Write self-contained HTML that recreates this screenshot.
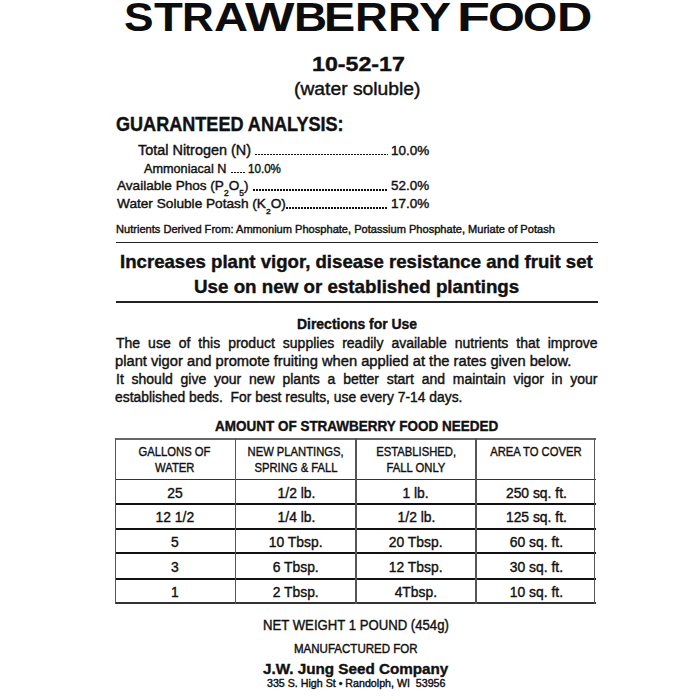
<!DOCTYPE html>
<html><head><meta charset="utf-8"><style>
html,body{margin:0;padding:0;background:#fff;width:700px;height:700px;overflow:hidden}
body{position:relative;font-family:"Liberation Sans", sans-serif;color:#111;-webkit-text-stroke:0.4px #111}
.t{position:absolute;white-space:nowrap;transform-origin:0 0}
sub{font-size:0.62em;vertical-align:-0.7em;line-height:0}
.hr{position:absolute;background:#222}
.pj{white-space:normal;text-align:justify;text-align-last:justify}
.c{position:absolute;width:200px;text-align:center;white-space:nowrap}
.c span{display:inline-block;transform-origin:50% 50%}
.ttl{font-weight:700;-webkit-text-stroke:0;color:#0d0d0d}
.dots{position:absolute;height:1.8px;background:repeating-linear-gradient(90deg,#111 0 1.6px,transparent 1.6px 3px)}
</style></head><body>
<div class="t" style="left:311.57px;top:53.6px;font-size:20.58px;line-height:20.58px;font-weight:700;transform:scaleX(1.1272);">10-52-17</div><div class="t" style="left:294.4px;top:80.8px;font-size:17.5px;line-height:17.5px;font-weight:400;transform:scaleX(1.1018);">(water soluble)</div><div class="t" style="left:116.1px;top:113.8px;font-size:20.0px;line-height:20.0px;font-weight:700;transform:scaleX(0.9036);">GUARANTEED ANALYSIS:</div><div class="t" style="left:138.0px;top:144.1px;font-size:13.91px;line-height:13.91px;font-weight:400;transform:scaleX(1.037);">Total Nitrogen (N)</div><div class="t" style="left:391.11px;top:144.9px;font-size:12.46px;line-height:12.46px;font-weight:400;transform:scaleX(1.0853);">10.0%</div><div class="t" style="left:144.4px;top:162.9px;font-size:12.9px;line-height:12.9px;font-weight:400;transform:scaleX(0.9831);">Ammoniacal N</div><div class="t" style="left:247.67px;top:162.9px;font-size:12.46px;line-height:12.46px;font-weight:400;transform:scaleX(0.9324);">10.0%</div><div class="t" style="left:117.0px;top:179.4px;font-size:13.62px;line-height:13.62px;font-weight:400;transform:scaleX(0.9977);">Available Phos (P<sub>2</sub>O<sub>5</sub>)</div><div class="t" style="left:391.2px;top:179.3px;font-size:13.48px;line-height:13.48px;font-weight:400;transform:scaleX(0.9973);">52.0%</div><div class="t" style="left:117.0px;top:197.0px;font-size:13.04px;line-height:13.04px;font-weight:400;transform:scaleX(1.0475);">Water Soluble Potash (K<sub>2</sub>O)</div><div class="t" style="left:391.11px;top:198.0px;font-size:12.46px;line-height:12.46px;font-weight:400;transform:scaleX(1.0853);">17.0%</div><div class="t" style="left:115.97px;top:224.4px;font-size:10.72px;line-height:10.72px;font-weight:400;transform:scaleX(1.0331);">Nutrients Derived From: Ammonium Phosphate, Potassium Phosphate, Muriate of Potash</div><div class="t" style="left:120.0px;top:253.0px;font-size:18.55px;line-height:18.55px;font-weight:700;transform:scaleX(1.0043);">Increases plant vigor, disease resistance and fruit set</div><div class="t" style="left:194.02px;top:277.0px;font-size:19.13px;line-height:19.13px;font-weight:700;transform:scaleX(0.9818);">Use on new or established plantings</div><div class="t" style="left:296.64px;top:317.0px;font-size:14.49px;line-height:14.49px;font-weight:700;transform:scaleX(0.9626);">Directions for Use</div><div class="t" style="left:114.95px;top:354.0px;font-size:14.0px;line-height:14.0px;font-weight:400;transform:scaleX(1.0509);">plant vigor and promote fruiting when applied at the rates given below.</div><div class="t" style="left:115.01px;top:390.0px;font-size:14.0px;line-height:14.0px;font-weight:400;transform:scaleX(0.99);">established beds.&nbsp; For best results, use every 7-14 days.</div><div class="t" style="left:215.0px;top:419.4px;font-size:14.49px;line-height:14.49px;font-weight:700;transform:scaleX(0.9309);">AMOUNT OF STRAWBERRY FOOD NEEDED</div><div class="t" style="left:262.66px;top:618.4px;font-size:14.06px;line-height:14.06px;font-weight:400;transform:scaleX(0.936);">NET WEIGHT 1 POUND (454g)</div><div class="t" style="left:293.74px;top:643.3px;font-size:12.03px;line-height:12.03px;font-weight:400;transform:scaleX(0.9591);">MANUFACTURED FOR</div><div class="t" style="left:262.9px;top:660.5px;font-size:15.22px;line-height:15.22px;font-weight:700;transform:scaleX(1.0005);">J.W. Jung Seed Company</div><div class="t" style="left:266.55px;top:679.0px;font-size:10.14px;line-height:10.14px;font-weight:400;transform:scaleX(1.0524);">335 S. High St &bull; Randolph, WI&nbsp; 53956</div><div class="t ttl" style="left:123.99px;top:-2.80px;font-size:40.0px;line-height:40.0px;transform:scaleX(1.1083)">S</div><div class="t ttl" style="left:154.3px;top:-2.80px;font-size:40.0px;line-height:40.0px;transform:scaleX(1.1792)">T</div><div class="t ttl" style="left:181.8px;top:-2.80px;font-size:40.0px;line-height:40.0px;transform:scaleX(1.1)">R</div><div class="t ttl" style="left:213.92px;top:-2.80px;font-size:40.0px;line-height:40.0px;transform:scaleX(1.1778)">A</div><div class="t ttl" style="left:245.1px;top:-2.80px;font-size:40.0px;line-height:40.0px;transform:scaleX(1.3105)">W</div><div class="t ttl" style="left:293.96px;top:-2.80px;font-size:40.0px;line-height:40.0px;transform:scaleX(1.1458)">B</div><div class="t ttl" style="left:324.2px;top:-2.80px;font-size:40.0px;line-height:40.0px;transform:scaleX(1.1682)">E</div><div class="t ttl" style="left:355.2px;top:-2.80px;font-size:40.0px;line-height:40.0px;transform:scaleX(1.132)">R</div><div class="t ttl" style="left:387.7px;top:-2.80px;font-size:40.0px;line-height:40.0px;transform:scaleX(1.132)">R</div><div class="t ttl" style="left:418.9px;top:-2.80px;font-size:40.0px;line-height:40.0px;transform:scaleX(1.2)">Y</div><div class="t ttl" style="left:457.36px;top:-2.80px;font-size:40.0px;line-height:40.0px;transform:scaleX(1.345)">F</div><div class="t ttl" style="left:487.64px;top:-2.80px;font-size:40.0px;line-height:40.0px;transform:scaleX(1.1821)">O</div><div class="t ttl" style="left:522.81px;top:-2.80px;font-size:40.0px;line-height:40.0px;transform:scaleX(1.0964)">O</div><div class="t ttl" style="left:556.74px;top:-2.80px;font-size:40.0px;line-height:40.0px;transform:scaleX(1.2208)">D</div>
<div class="hr" style="left:115.6px;top:241.5px;width:482px;height:1.8px"></div>
<div class="hr" style="left:115.6px;top:301px;width:482.5px;height:2.2px"></div>
<div class="dots" style="left:255px;top:153.5px;width:133px"></div>
<div class="dots" style="left:231px;top:171.5px;width:14px"></div>
<div class="dots" style="left:253px;top:189px;width:135px"></div>
<div class="dots" style="left:286px;top:207px;width:102px"></div>
<div class="t pj" style="left:116px;top:336.1px;width:481.5px;font-size:14px;line-height:14px">The use of this product supplies readily available nutrients that improve</div>
<div class="t pj" style="left:116px;top:372.3px;width:481.5px;font-size:14px;line-height:14px">It should give your new plants a better start and maintain vigor in your</div>
<div class="hr" style="left:115px;top:438px;width:480.5px;height:1.5px;background:#666"></div>
<div class="hr" style="left:115px;top:478.6px;width:480.5px;height:1.6px;background:#333"></div>
<div class="hr" style="left:115px;top:503.2px;width:480.5px;height:2px;background:#111"></div>
<div class="hr" style="left:115px;top:527.8px;width:480.5px;height:2px;background:#111"></div>
<div class="hr" style="left:115px;top:552.4px;width:480.5px;height:2px;background:#111"></div>
<div class="hr" style="left:115px;top:577.8px;width:480.5px;height:2px;background:#111"></div>
<div class="hr" style="left:115px;top:602.2px;width:480.5px;height:1.6px;background:#333"></div>
<div class="hr" style="left:114.6px;top:438px;width:1.3px;height:165.8px;background:#555"></div>
<div class="hr" style="left:234.8px;top:438px;width:1.3px;height:165.8px;background:#555"></div>
<div class="hr" style="left:355.4px;top:438px;width:1.3px;height:165.8px;background:#555"></div>
<div class="hr" style="left:475.4px;top:438px;width:1.3px;height:165.8px;background:#555"></div>
<div class="hr" style="left:594.2px;top:438px;width:1.3px;height:165.8px;background:#555"></div>
<div class="c" style="left:75px;top:444.75px;font-size:13px;line-height:13px"><span style="transform:scaleX(0.865)">GALLONS OF</span></div><div class="c" style="left:75px;top:461.15px;font-size:13px;line-height:13px"><span style="transform:scaleX(0.865)">WATER</span></div><div class="c" style="left:196px;top:444.75px;font-size:13px;line-height:13px"><span style="transform:scaleX(0.865)">NEW PLANTINGS,</span></div><div class="c" style="left:196px;top:461.15px;font-size:13px;line-height:13px"><span style="transform:scaleX(0.865)">SPRING &amp; FALL</span></div><div class="c" style="left:316px;top:444.75px;font-size:13px;line-height:13px"><span style="transform:scaleX(0.865)">ESTABLISHED,</span></div><div class="c" style="left:316px;top:461.15px;font-size:13px;line-height:13px"><span style="transform:scaleX(0.865)">FALL ONLY</span></div><div class="c" style="left:436px;top:444.75px;font-size:13px;line-height:13px"><span style="transform:scaleX(0.865)">AREA TO COVER</span></div><div class="c" style="left:75px;top:485.64px;font-size:14.3px;line-height:14.3px"><span style="transform:scaleX(0.97)">25</span></div><div class="c" style="left:196px;top:485.64px;font-size:14.3px;line-height:14.3px"><span style="transform:scaleX(0.97)">1/2 lb.</span></div><div class="c" style="left:316px;top:485.64px;font-size:14.3px;line-height:14.3px"><span style="transform:scaleX(0.97)">1 lb.</span></div><div class="c" style="left:436px;top:485.64px;font-size:14.3px;line-height:14.3px"><span style="transform:scaleX(0.97)">250 sq. ft.</span></div><div class="c" style="left:75px;top:510.45px;font-size:14.3px;line-height:14.3px"><span style="transform:scaleX(0.97)">12 1/2</span></div><div class="c" style="left:196px;top:510.45px;font-size:14.3px;line-height:14.3px"><span style="transform:scaleX(0.97)">1/4 lb.</span></div><div class="c" style="left:316px;top:510.45px;font-size:14.3px;line-height:14.3px"><span style="transform:scaleX(0.97)">1/2 lb.</span></div><div class="c" style="left:436px;top:510.45px;font-size:14.3px;line-height:14.3px"><span style="transform:scaleX(0.97)">125 sq. ft.</span></div><div class="c" style="left:75px;top:535.14px;font-size:14.3px;line-height:14.3px"><span style="transform:scaleX(0.97)">5</span></div><div class="c" style="left:196px;top:535.14px;font-size:14.3px;line-height:14.3px"><span style="transform:scaleX(0.97)">10 Tbsp.</span></div><div class="c" style="left:316px;top:535.14px;font-size:14.3px;line-height:14.3px"><span style="transform:scaleX(0.97)">20 Tbsp.</span></div><div class="c" style="left:436px;top:535.14px;font-size:14.3px;line-height:14.3px"><span style="transform:scaleX(0.97)">60 sq. ft.</span></div><div class="c" style="left:75px;top:559.85px;font-size:14.3px;line-height:14.3px"><span style="transform:scaleX(0.97)">3</span></div><div class="c" style="left:196px;top:559.85px;font-size:14.3px;line-height:14.3px"><span style="transform:scaleX(0.97)">6 Tbsp.</span></div><div class="c" style="left:316px;top:559.85px;font-size:14.3px;line-height:14.3px"><span style="transform:scaleX(0.97)">12 Tbsp.</span></div><div class="c" style="left:436px;top:559.85px;font-size:14.3px;line-height:14.3px"><span style="transform:scaleX(0.97)">30 sq. ft.</span></div><div class="c" style="left:75px;top:584.64px;font-size:14.3px;line-height:14.3px"><span style="transform:scaleX(0.97)">1</span></div><div class="c" style="left:196px;top:584.64px;font-size:14.3px;line-height:14.3px"><span style="transform:scaleX(0.97)">2 Tbsp.</span></div><div class="c" style="left:316px;top:584.64px;font-size:14.3px;line-height:14.3px"><span style="transform:scaleX(0.97)">4Tbsp.</span></div><div class="c" style="left:436px;top:584.64px;font-size:14.3px;line-height:14.3px"><span style="transform:scaleX(0.97)">10 sq. ft.</span></div>
</body></html>
